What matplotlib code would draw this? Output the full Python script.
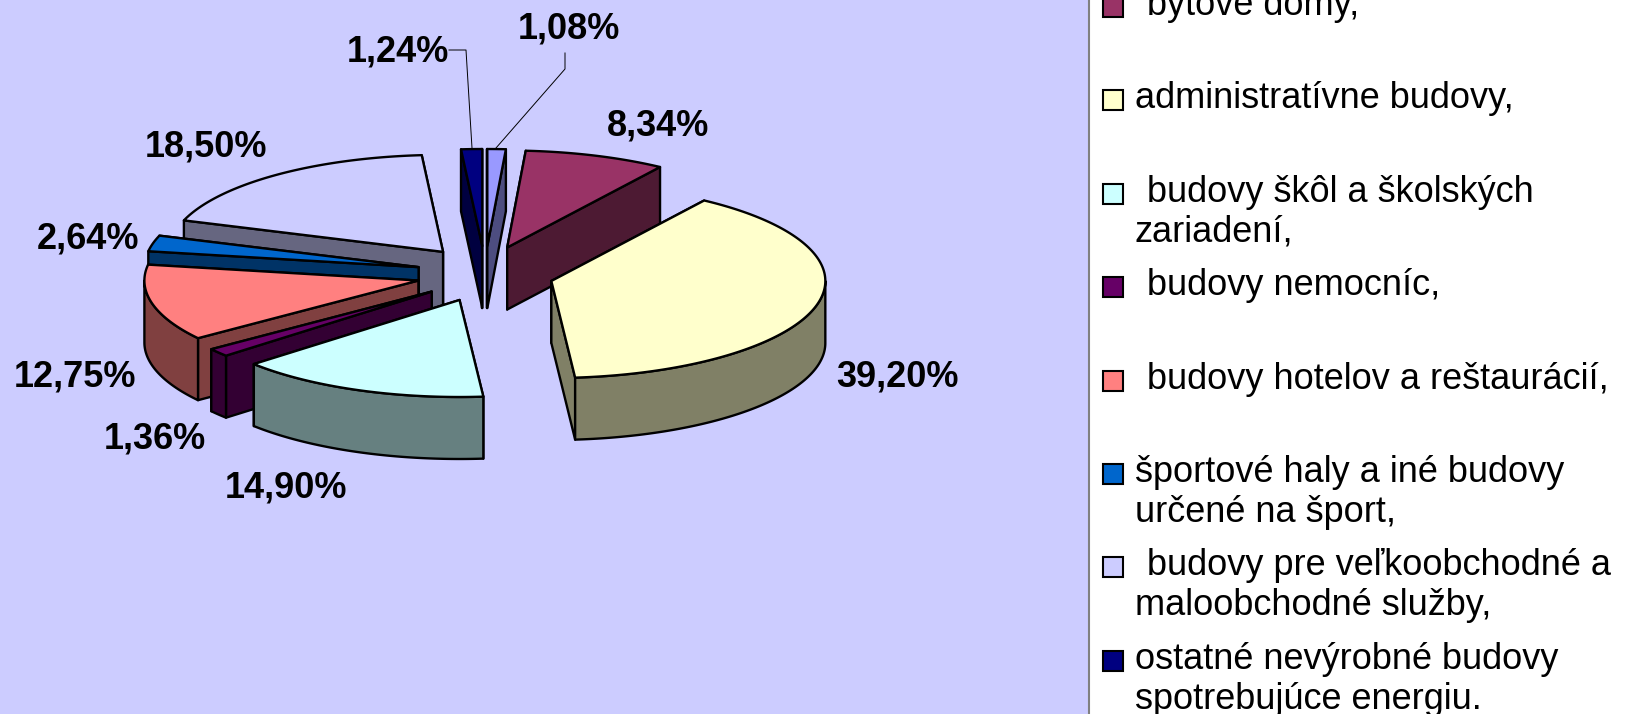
import numpy as np
import matplotlib
matplotlib.use("Agg")
import matplotlib.pyplot as plt
from matplotlib.patches import Polygon, Rectangle

plt.rcParams['font.family'] = ['Liberation Sans', 'DejaVu Sans']

# Data (clockwise from the top of the pie)
values = [1.08, 8.34, 39.20, 14.90, 1.36, 12.75, 2.64, 18.50, 1.24]
value_labels = ['1,08%', '8,34%', '39,20%', '14,90%', '1,36%', '12,75%', '2,64%', '18,50%', '1,24%']
top_colors = ['#9999FF', '#993366', '#FFFFCC', '#CCFFFF', '#660066', '#FF8080', '#0066CC', '#CCCCFF', '#000080']
side_colors = ['#4D4D80', '#4D1A33', '#808066', '#668080', '#330033', '#804040', '#003366', '#666680', '#000040']
legend_rows = [
    (['  bytové domy,'], '#993366'),
    (['administratívne budovy,'], '#FFFFCC'),
    (['  budovy škôl a školských', 'zariadení,'], '#CCFFFF'),
    (['  budovy nemocníc,'], '#660066'),
    (['  budovy hotelov a reštaurácií,'], '#FF8080'),
    (['športové haly a iné budovy', 'určené na šport,'], '#0066CC'),
    (['  budovy pre veľkoobchodné a', 'maloobchodné služby,'], '#CCCCFF'),
    (['ostatné nevýrobné budovy', 'spotrebujúce energiu.'], '#000080'),
]
label_pos = [(569, 29), (658, 126), (897, 377), (286, 488), (155, 439),
             (75, 377), (88, 239), (206, 147), (398, 52)]

BG = '#CCCCFF'
W, H = 1628, 714
CX, CY = 485, 274
RX, RY = 274, 97
EXPL_X, EXPL_Y = 68.5, 28
DEPTH = 62
START = 0.0
LW = 1.7

fig = plt.figure(figsize=(W / 100, H / 100), dpi=100, facecolor=BG)
ax = fig.add_axes([0, 0, 1, 1])
ax.set_xlim(0, W)
ax.set_ylim(H, 0)
ax.axis('off')

vals = np.array(values)
edges = START + np.concatenate([[0], np.cumsum(vals) / vals.sum() * 360])


def rim(ox, oy, a0, a1):
    t = np.radians(np.linspace(a0, a1, max(int(a1 - a0) * 2, 2)))
    return np.column_stack([ox + RX * np.sin(t), oy - RY * np.cos(t)])


mids = (edges[:-1] + edges[1:]) / 2
order = np.argsort(-np.cos(np.radians(mids)))
z = 2
for i in order:
    a0, a1, m = edges[i], edges[i + 1], np.radians(mids[i])
    ox = CX + EXPL_X * np.sin(m)
    oy = CY - EXPL_Y * np.cos(m)
    arc = rim(ox, oy, a0, a1)
    apex = np.array([[ox, oy]])
    drop = np.array([0, DEPTH])
    style = dict(edgecolor='black', linewidth=LW, joinstyle='round')
    # cut faces (the one further back first), outer wall (front half only), then the top face
    for end in sorted((arc[0], arc[-1]), key=lambda p: p[1]):
        ax.add_patch(Polygon(np.vstack([apex, [end], [end + drop], apex + drop]),
                             facecolor=side_colors[i], zorder=z, **style))
    f0, f1 = max(a0, 90), min(a1, 270)
    if f1 > f0:
        wall = rim(ox, oy, f0, f1)
        ax.add_patch(Polygon(np.vstack([wall, (wall + drop)[::-1]]),
                             facecolor=side_colors[i], zorder=z, **style))
    ax.add_patch(Polygon(np.vstack([apex, arc]), facecolor=top_colors[i], zorder=z + 1, **style))
    z += 2

# Leader lines
ax.plot([449, 466, 472], [50, 50, 148], color='black', lw=0.7, zorder=50)
ax.plot([565, 565, 496], [53, 69, 148], color='black', lw=0.7, zorder=50)

for txt, (x, y) in zip(value_labels, label_pos):
    ax.text(x, y, txt, fontsize=26, fontweight='bold', ha='center', va='center',
            color='black', zorder=60)

# Legend panel, running off the top and bottom of the picture
ax.add_patch(Rectangle((1089, -5), W - 1089 + 5, H + 10, facecolor='white',
                       edgecolor='#808080', linewidth=1.5, zorder=70))
for k, (lines, color) in enumerate(legend_rows):
    yc = 7 + k * 93.4
    ax.add_patch(Rectangle((1103, yc - 10), 20, 20, facecolor=color, edgecolor='black',
                           linewidth=1.5, zorder=71))
    for j, line in enumerate(lines):
        indent = 1147 if line.startswith(' ') else 1135
        ax.text(indent, yc + 8 + j * 40, line.strip(), fontsize=26, ha='left', va='baseline',
                color='black', zorder=72)

fig.savefig('out.png', dpi=100, facecolor=BG)
